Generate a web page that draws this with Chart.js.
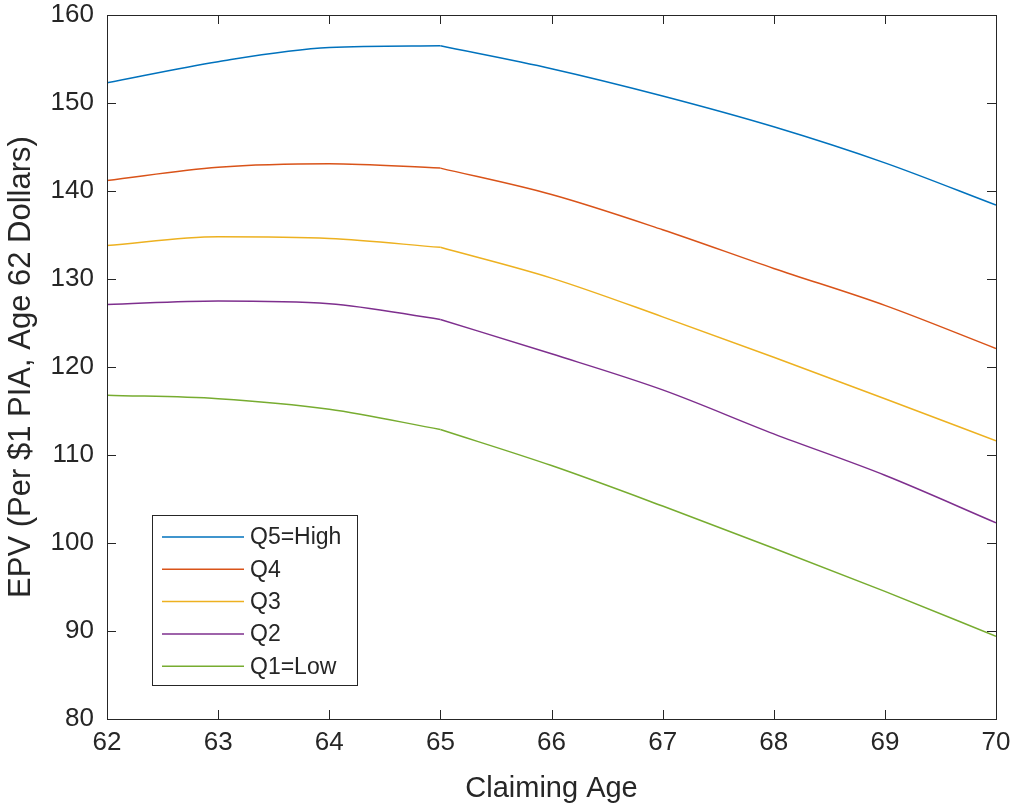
<!DOCTYPE html>
<html>
<head>
<meta charset="utf-8">
<script src="https://cdn.jsdelivr.net/npm/chart.js@4"></script>
<style>
  html, body { margin: 0; padding: 0; background: #fff; }
  #wrap { width: 1016px; height: 806px; }
</style>
</head>
<body>
<div id="wrap"><canvas id="myChart" width="1016" height="806"></canvas></div>
<script>
// claiming ages on the x axis
var ages = [62, 63, 64, 65, 66, 67, 68, 69, 70];

// EPV per $1 PIA
var q5 = [152.3, 154.7, 156.3, 156.5, 153.9, 150.8, 147.3, 143.2, 138.4];
var q4 = [141.2, 142.7, 143.1, 142.6, 139.6, 135.6, 131.2, 127.0, 122.1];
var q3 = [133.8, 134.8, 134.6, 133.6, 130.1, 125.7, 121.1, 116.4, 111.6];
var q2 = [127.1, 127.5, 127.2, 125.4, 121.5, 117.4, 112.4, 107.7, 102.3];
var q1 = [116.8, 116.4, 115.2, 112.9, 108.8, 104.2, 99.4, 94.5, 89.4];

var seriesNames = ["Q5=High", "Q4", "Q3", "Q2", "Q1=Low"];
var yTicks = [80, 90, 100, 110, 120, 130, 140, 150, 160];

var colors = ['#0072BD', '#D95319', '#EDB120', '#7E2F8E', '#77AC30'];
var axisColor = '#262626';
var font = '"Liberation Sans", Arial, sans-serif';

// the curves have a kink at 65 (full retirement age), so each one is
// drawn as two pieces that share the age-65 point
var kinkIdx = ages.indexOf(65);

function toPoints(vals, from, to) {
  var pts = [];
  for (var i = from; i <= to; i++) pts.push({x: ages[i], y: vals[i]});
  return pts;
}

var allSeries = [q5, q4, q3, q2, q1];
var datasets = [];
allSeries.forEach(function(vals, i) {
  [[0, kinkIdx], [kinkIdx, ages.length - 1]].forEach(function(r, k) {
    datasets.push({
      label: seriesNames[i],
      hideInLegend: k > 0,
      data: toPoints(vals, r[0], r[1]),
      borderColor: colors[i],
      backgroundColor: colors[i],
      borderWidth: 1.5,
      pointRadius: 0,
      fill: false,
      cubicInterpolationMode: 'monotone'
    });
  });
});

// box around plot + inward ticks, matlab style
var boxPlugin = {
  id: 'box',
  afterDraw: function(chart) {
    var ctx = chart.ctx, a = chart.chartArea;
    var xs = chart.scales.x, ys = chart.scales.y;
    ctx.save();
    ctx.strokeStyle = axisColor;
    ctx.lineWidth = 1;
    ctx.strokeRect(a.left + 0.5, a.top + 0.5, a.right - a.left, a.bottom - a.top);
    ctx.beginPath();
    ages.forEach(function(v) {
      var px = Math.round(xs.getPixelForValue(v)) + 0.5;
      ctx.moveTo(px, a.bottom); ctx.lineTo(px, a.bottom - 9);
      ctx.moveTo(px, a.top); ctx.lineTo(px, a.top + 9);
    });
    yTicks.forEach(function(v) {
      var py = Math.round(ys.getPixelForValue(v)) + 0.5;
      ctx.moveTo(a.left, py); ctx.lineTo(a.left + 9, py);
      ctx.moveTo(a.right, py); ctx.lineTo(a.right - 9, py);
    });
    ctx.stroke();

    // legend box inside the plot
    var lx = 152, ly = 515, lw = 205, lh = 170;
    ctx.fillStyle = '#fff';
    ctx.fillRect(lx, ly, lw, lh);
    ctx.strokeRect(lx + 0.5, ly + 0.5, lw, lh);
    ctx.font = '23px ' + font;
    ctx.textBaseline = 'middle';
    var row = 0;
    chart.data.datasets.forEach(function(ds) {
      if (ds.hideInLegend) return;
      var yy = ly + 22 + row * 32.3;
      ctx.strokeStyle = ds.borderColor;
      ctx.lineWidth = 1.5;
      ctx.beginPath();
      ctx.moveTo(lx + 10, yy); ctx.lineTo(lx + 92, yy);
      ctx.stroke();
      ctx.fillStyle = axisColor;
      ctx.fillText(ds.label, lx + 98, yy + 1);
      row++;
    });
    ctx.restore();
  }
};

var ctx = document.getElementById('myChart').getContext('2d');
var chart = new Chart(ctx, {
  type: 'line',
  data: { datasets: datasets },
  options: {
    responsive: false,
    animation: false,
    layout: { padding: { left: 0, top: 15, right: 20, bottom: 0 } },
    plugins: {
      legend: { display: false },
      tooltip: { enabled: false }
    },
    scales: {
      x: {
        type: 'linear',
        min: 62, max: 70,
        afterFit: function(s) {
          s.height = 87;
          s.paddingLeft = 0; s.paddingRight = 0;
        },
        afterBuildTicks: function(s) { s.ticks = ages.map(function(v) { return {value: v}; }); },
        grid: { drawOnChartArea: false, drawTicks: false },
        border: { display: false },
        ticks: { color: axisColor, font: { family: font, size: 26 }, padding: 8, maxRotation: 0 },
        title: { display: true, text: 'Claiming Age', color: axisColor,
                 font: { family: font, size: 29 }, padding: { top: 0, bottom: 0 } }
      },
      y: {
        min: 80, max: 160,
        afterFit: function(s) {
          s.width = 107;
          s.paddingTop = 0; s.paddingBottom = 0;
        },
        afterBuildTicks: function(s) { s.ticks = yTicks.map(function(v) { return {value: v}; }); },
        grid: { drawOnChartArea: false, drawTicks: false },
        border: { display: false },
        ticks: { color: axisColor, font: { family: font, size: 26 }, padding: 13 },
        title: { display: true, text: 'EPV (Per $1 PIA, Age 62 Dollars)', color: axisColor,
                 font: { family: font, size: 31 }, padding: { top: 3, bottom: 0 } }
      }
    }
  },
  plugins: [boxPlugin]
});
</script>
</body>
</html>
